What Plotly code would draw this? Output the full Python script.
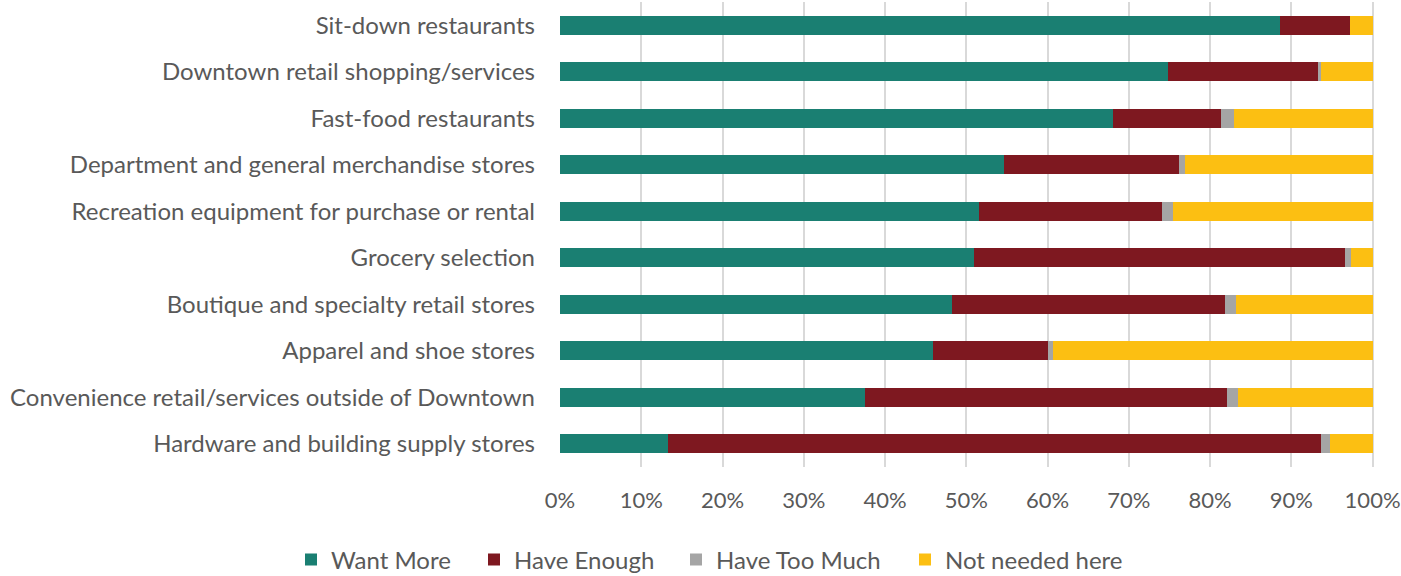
import plotly.graph_objects as go

categories = [
    "Sit-down restaurants",
    "Downtown retail shopping/services",
    "Fast-food restaurants",
    "Department and general merchandise stores",
    "Recreation equipment for purchase or rental",
    "Grocery selection",
    "Boutique and specialty retail stores",
    "Apparel and shoe stores",
    "Convenience retail/services outside of Downtown",
    "Hardware and building supply stores",
]
want_more = [88.6, 74.8, 68.1, 54.6, 51.6, 50.9, 48.3, 45.9, 37.5, 13.3]
have_enough = [8.6, 18.5, 13.2, 21.6, 22.5, 45.7, 33.6, 14.2, 44.6, 80.3]
have_too_much = [0.0, 0.3, 1.7, 0.7, 1.3, 0.7, 1.3, 0.6, 1.4, 1.2]
not_needed = [2.8, 6.4, 17.0, 23.1, 24.6, 2.7, 16.8, 39.3, 16.5, 5.2]
tick_values = [0, 10, 20, 30, 40, 50, 60, 70, 80, 90, 100]
tick_labels = ["0%", "10%", "20%", "30%", "40%", "50%", "60%", "70%", "80%", "90%", "100%"]

series = [
    ("Want More", want_more, "#1a7f72"),
    ("Have Enough", have_enough, "#7e1820"),
    ("Have Too Much", have_too_much, "#a5a5a5"),
    ("Not needed here", not_needed, "#fcbf12"),
]
legend_ids = ["legend", "legend2", "legend3", "legend4"]
legend_left = [291, 474, 676, 905]

FS = 24
TXT = "#595959"
fig = go.Figure()
for (name, vals, color), lid in zip(series, legend_ids):
    fig.add_trace(go.Bar(
        y=categories, x=vals, name=name, orientation="h",
        marker=dict(color=color, line=dict(width=0)), legend=lid,
    ))

font_family = "Lato, Open Sans, sans-serif"
layout_legends = {}
for lid, xl in zip(legend_ids, legend_left):
    layout_legends[lid] = dict(
        orientation="h", xref="container", yref="container",
        x=xl / 1401, xanchor="left", y=(576 - 560) / 576, yanchor="middle",
        font=dict(size=FS, color=TXT), bgcolor="rgba(0,0,0,0)",
    )

fig.update_layout(
    barmode="stack",
    bargap=0.59,
    width=1401, height=576,
    margin=dict(l=560, r=26, t=2, b=109),
    plot_bgcolor="white", paper_bgcolor="white",
    font=dict(family=font_family, size=FS, color=TXT),
    showlegend=True,
    xaxis=dict(
        range=[0, 100.3], tickvals=tick_values, ticktext=tick_labels,
        showgrid=True, gridcolor="#d9d9d9", gridwidth=1.5,
        zeroline=False, showline=False, ticks="",
        ticklabelstandoff=18, automargin=False, ticklabeloverflow="allow",
        tickfont=dict(size=22, color=TXT),
        fixedrange=True,
    ),
    yaxis=dict(
        autorange="reversed", showgrid=False, zeroline=False, showline=False,
        ticks="", ticklabelstandoff=24, automargin=False,
        tickfont=dict(size=FS, color=TXT),
    ),
    **layout_legends,
)

fig.write_html("out.html", config={"displayModeBar": False},
               post_script="document.body.style.margin='0';")
